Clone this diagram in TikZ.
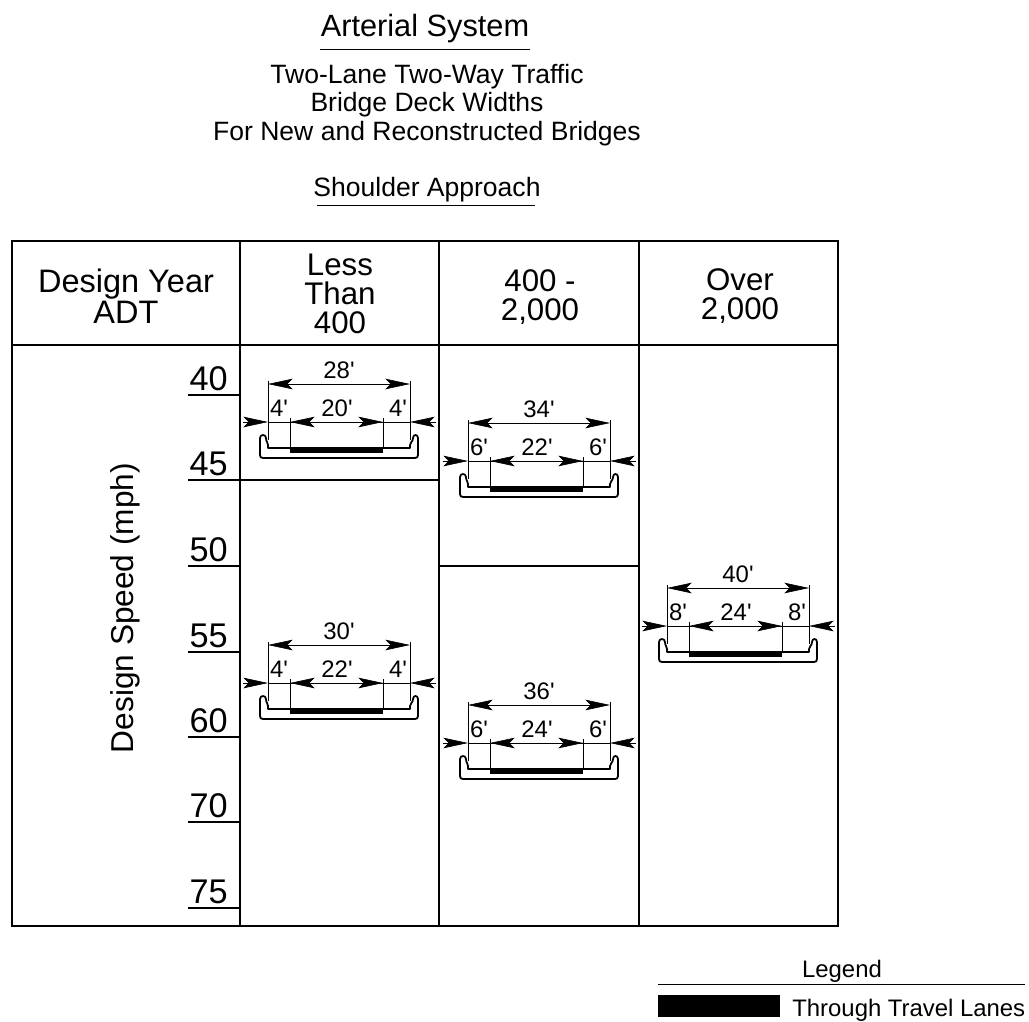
\documentclass[tikz,border=0pt]{standalone}
\usepackage{fontspec}
\setmainfont{Liberation Sans}
\usetikzlibrary{arrows.meta}
\tikzset{
	% text sizes, all in the picture's own scale
	titletext/.style={font=\fontsize{17.5}{20}\selectfont,inner sep=0pt},
	subtext/.style={font=\fontsize{15.1}{16.2}\selectfont,inner sep=0pt,align=center},
	headtext/.style={font=\fontsize{17.8}{16.5}\selectfont,inner sep=0pt,align=center},
	speedtext/.style={font=\fontsize{19.5}{20}\selectfont,inner sep=0pt,anchor=south east},
	dimtext/.style={font=\fontsize{13.6}{14}\selectfont,inner sep=0pt},
	legendtext/.style={font=\fontsize{13.6}{14}\selectfont,inner sep=0pt},
	dimline/.style={line width=0.35pt},
	dimarrow/.style={line width=0.35pt,-{Stealth[length=14pt,width=6pt,inset=3pt]}},
	dimboth/.style={line width=0.35pt,{Stealth[length=14pt,width=6pt,inset=3pt]}-{Stealth[length=14pt,width=6pt,inset=3pt]}},
	tableline/.style={line width=1pt},
	deckline/.style={line width=1pt,line join=round},
}
\newcommand{\ft}{\textquotesingle}
% #1 name, #2 left end, #3 top dimension line, #4 total, #5 shoulder, #6 lanes
\newcommand{\bridgedeck}[6]{
	\begin{scope}[shift={(#2,#3)}]
		\draw[dimline] (0,-3) -- (0,56);
		\draw[dimline] (142,-3) -- (142,56);
		\draw[dimline] (22,34) -- (22,65);
		\draw[dimline] (115,34) -- (115,65);
		\draw[dimboth] (0,0) -- (142,0);
		\draw[dimline] (0,38) -- (142,38);
		\draw[dimboth] (22,38) -- (115,38);
		\draw[dimarrow] (-25,38) -- (0,38);
		\draw[dimarrow] (168,38) -- (142,38);
		\draw[deckline] (-8,54) .. controls (-8,50) and (-2,50) .. (-2,54)
			.. controls (-2,58) and (0,58) .. (0,61) -- (0,64) -- (142,64) -- (142,61)
			.. controls (142,58) and (145,58) .. (145,54)
			.. controls (145,50) and (150,50) .. (150,54) -- (150,71)
			.. controls (150,73) and (149,74) .. (147,74) -- (-5,74)
			.. controls (-7,74) and (-8,73) .. (-8,71) -- cycle;
		\fill (22,64) rectangle (115,69);
		\node[dimtext] (#1total) at (71,-14) {#4\ft};
		\node[dimtext] (#1left) at (11,24) {#5\ft};
		\node[dimtext] (#1mid) at (69,24) {#6\ft};
		\node[dimtext] (#1right) at (130,24) {#5\ft};
	\end{scope}
}
\begin{document}
\begin{tikzpicture}[x=0.02cm,y=-0.02cm]
	\useasboundingbox (0,0) rectangle (1029,1022);
	% heading
	\node[titletext] (title) at (425,29) {Arterial System};
	\draw[dimline] (320,49) -- (530,49);
	\node[subtext] (sub1) at (427,77) {Two-Lane Two-Way Traffic};
	\node[subtext] (sub2) at (427,105) {Bridge Deck Widths};
	\node[subtext] (sub3) at (427,134) {For New and Reconstructed Bridges};
	\node[subtext] (approach) at (427,190) {Shoulder Approach};
	\draw[dimline] (317,205) -- (535,205);
	% table
	\draw[tableline] (12,241) rectangle (838,926);
	\draw[tableline] (12,345) -- (838,345);
	\draw[tableline] (240,241) -- (240,926);
	\draw[tableline] (439,241) -- (439,926);
	\draw[tableline] (639,241) -- (639,926);
	\node[headtext,font=\fontsize{18.5}{16.5}\selectfont] (adt) at (126,296) {Design Year\\ADT};
	\node[headtext] (col1) at (340,294) {Less\\Than\\400};
	\node[headtext] (col2) at (540,297) {400 -\\2,000};
	\node[headtext] (col3) at (740,296) {Over\\2,000};
	\node[font=\fontsize{18}{20}\selectfont,inner sep=0pt,rotate=90] (speed) at (125,608) {Design Speed (mph)};
	% speed scale
	\foreach \yy/\speedval in {395/40,480/45,566/50,652/55,737/60,822/70,908/75}{
		\draw[tableline] (188,\yy) -- (240,\yy);
		\node[speedtext] (s\speedval) at (228,\yy-4) {\speedval};
	}
	\draw[tableline] (240,480) -- (439,480);
	\draw[tableline] (439,566) -- (639,566);
	% decks
	\bridgedeck{a}{268}{384}{28}{4}{20}
	\bridgedeck{b}{268}{645}{30}{4}{22}
	\bridgedeck{c}{468}{423}{34}{6}{22}
	\bridgedeck{d}{468}{705}{36}{6}{24}
	\bridgedeck{e}{667}{588}{40}{8}{24}
	% legend
	\node[legendtext] (legend) at (842,971) {Legend};
	\draw[dimline] (658,984) -- (1025,984);
	\fill (658,995) rectangle (780,1017);
	\node[legendtext,anchor=west] (lanes) at (792,1010) {Through Travel Lanes};
\end{tikzpicture}
\end{document}
